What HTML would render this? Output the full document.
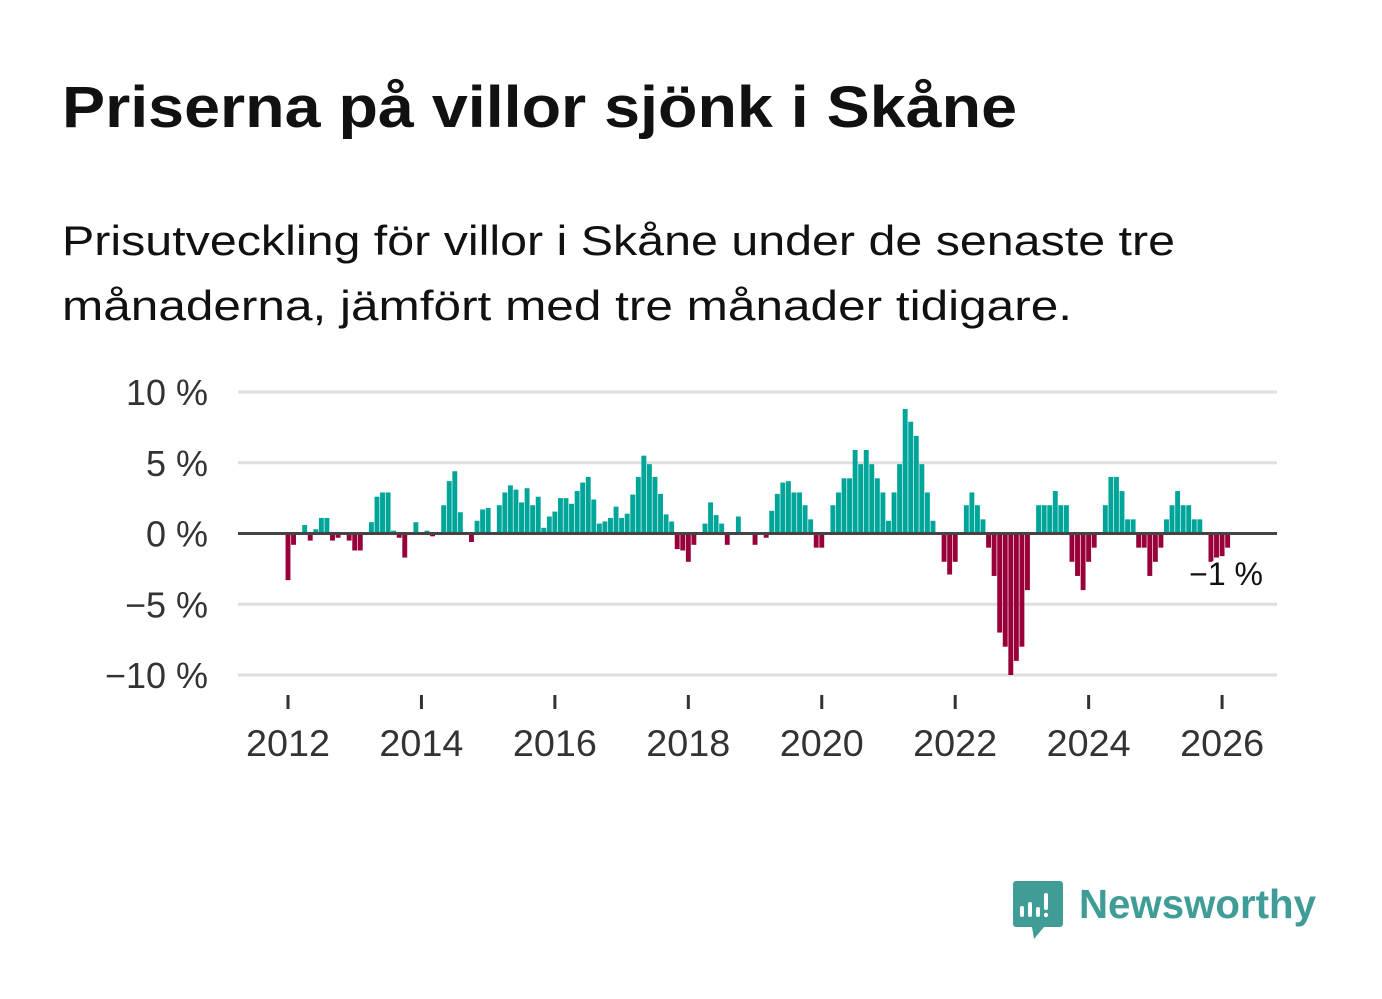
<!DOCTYPE html>
<html><head><meta charset="utf-8"><style>
html,body{margin:0;padding:0;background:#fff;}
svg{display:block;font-family:"Liberation Sans",sans-serif;}
</style></head><body>
<svg id="chart" width="1382" height="999" viewBox="0 0 1382 999">
<text x="62" y="127" font-size="58" font-weight="bold" fill="#111" textLength="955" lengthAdjust="spacingAndGlyphs">Priserna på villor sjönk i Skåne</text>
<text x="62" y="255" font-size="42" fill="#111" textLength="1113" lengthAdjust="spacingAndGlyphs">Prisutveckling för villor i Skåne under de senaste tre</text>
<text x="62" y="320" font-size="42" fill="#111" textLength="1010" lengthAdjust="spacingAndGlyphs">månaderna, jämfört med tre månader tidigare.</text>
<g id="grid"></g>
<g id="bars"></g>
<g id="axes"></g>
<text x="1263" y="585" font-size="32" fill="#111" text-anchor="end" stroke="#fff" stroke-width="6" paint-order="stroke">−1 %</text>
<g>
<path d="M1016 881 h44 a3 3 0 0 1 3 3 v40 a3 3 0 0 1 -3 3 h-16 l-10 12 l-2 -12 h-16 a3 3 0 0 1 -3 -3 v-40 a3 3 0 0 1 3 -3z" fill="#3f9c96"/>
<rect x="1020" y="906" width="4" height="11" rx="2" fill="#fff"/>
<rect x="1028" y="902" width="4" height="15" rx="2" fill="#fff"/>
<rect x="1036" y="907" width="4" height="10" rx="2" fill="#fff"/>
<rect x="1044" y="893" width="4" height="17" rx="2" fill="#fff"/>
<circle cx="1046" cy="915" r="2.2" fill="#fff"/>
<text x="1079" y="918" font-size="41" font-weight="bold" fill="#3f9c96" textLength="237" lengthAdjust="spacingAndGlyphs">Newsworthy</text>
</g>
</svg>
<script>
const values = [-3.3,-0.8,0.1,0.6,-0.5,0.3,1.1,1.1,-0.5,-0.3,0,-0.5,-1.2,-1.2,0,0.8,2.6,2.9,2.9,0.2,-0.3,-1.7,0,0.8,0,0.2,-0.2,0,2.0,3.7,4.4,1.5,0,-0.6,0.9,1.7,1.8,0,2.0,2.9,3.4,3.1,
2.2,3.2,2.0,2.6,0.4,1.2,1.55,2.5,2.5,2.1,3.0,3.6,4.0,2.4,0.7,0.85,1.1,1.9,1.1,1.4,2.75,4.0,5.5,4.9,4.0,2.8,1.35,0.85,-1.1,-1.2,-2.0,-0.8,0,0.7,2.2,1.3,0.7,-0.8,0,1.2,
0.1,0.1,-0.8,0,-0.3,1.6,2.8,3.6,3.7,2.9,2.9,2.0,1.0,-1.0,-1.0,0,2.0,2.9,3.9,3.9,5.9,4.9,5.9,4.9,3.9,2.9,0.9,2.9,4.9,8.8,7.9,6.9,4.9,2.9,0.9,0,-2.0,-2.9,-2.0,0,2.0,2.9,
2.0,1.0,-1.0,-3.0,-7.0,-8.0,-10.0,-9.0,-8.0,-4.0,0,2,2,2,3,2,2,-2,-3,-4,-2,-1,0,2,4,4,3,1,1,-1,-1,-3,-2,-1,1,2,3,2,2,1,1,0,-2,-1.7,-1.6,-1];
const startYear = 2012;
const yTicks = [10,5,0,-5,-10];
const yTickLabels = ["10 %","5 %","0 %","−5 %","−10 %"];
const xTicks = [2012,2014,2016,2018,2020,2022,2024,2026];

const NS="http://www.w3.org/2000/svg";
const X0=238,X1=1277;
function xScale(t){return 288+(t-2012)*66.72;}
function yScale(v){return 533.5-v*14.15;}
function mk(tag,attrs,parent){const e=document.createElementNS(NS,tag);for(const k in attrs)e.setAttribute(k,attrs[k]);parent.appendChild(e);return e;}
const grid=document.getElementById('grid'),bars=document.getElementById('bars'),axes=document.getElementById('axes');
yTicks.forEach((v,i)=>{
  if(v!==0){const l=mk('line',{x1:X0,x2:X1,y1:yScale(v),y2:yScale(v),stroke:'#dedede','stroke-width':3},grid);
  
  }
  const t=mk('text',{x:208,y:yScale(v)+13,'font-size':36,fill:'#333','text-anchor':'end'},axes);
  t.textContent=yTickLabels[i];
  
  
});
values.forEach((v,i)=>{
  const t=startYear+i/12;
  const xc=xScale(t);
  const y0=yScale(0),y1=yScale(v);
  const r=mk('rect',{x:xc-2.45,width:4.9,y:Math.min(y0,y1),height:Math.abs(y1-y0),fill:v>=0?'#00a59a':'#99003a'},bars);
  
  
});
const zl=mk('line',{x1:X0,x2:X1,y1:yScale(0),y2:yScale(0),stroke:'#444','stroke-width':3},axes);


xTicks.forEach(y=>{
  const x=xScale(y);
  const tk=mk('line',{x1:x,x2:x,y1:695,y2:709,stroke:'#333','stroke-width':3},axes);
  
  
  const t=mk('text',{x:x,y:756,'font-size':37,fill:'#333','text-anchor':'middle',textLength:84,lengthAdjust:'spacingAndGlyphs'},axes);
  t.textContent=y;
  
  
});
</script>
</body></html>
